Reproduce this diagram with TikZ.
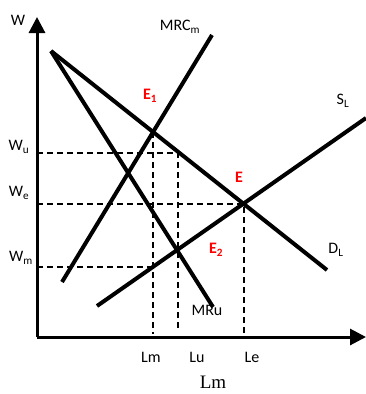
\documentclass[tikz,border=0pt]{standalone}
\usepackage{fontspec}
\setmainfont{Carlito}
\newfontfamily\serifLm{Liberation Serif}
\usetikzlibrary{arrows.meta}
\begin{document}
\begin{tikzpicture}[x=1pt,y=-1pt,
	curve/.style={line width=4pt},
	guide/.style={line width=1.6pt,dash pattern=on 6pt off 4pt},
	axis/.style={line width=3pt,-{Triangle[length=16pt,width=16pt]}},
	lbl/.style={inner sep=0pt,font=\fontsize{16}{16}\selectfont},
	eq/.style={inner sep=0pt,text=red,font=\fontsize{16}{16}\selectfont\bfseries}]

		\useasboundingbox (0,0) rectangle (366,394);

		% define point

		\coordinate (O)  at (37,337);

		\coordinate (Wtop)  at (37,17);

		\coordinate (Lend)  at (366,337);

		\coordinate (Dstart)  at (51,51);

		\coordinate (Dend)  at (327,270);

		\coordinate (MRend)  at (213,307);

		\coordinate (MRCtop)  at (212,35);

		\coordinate (MRCbot)  at (62,282);

		\coordinate (Sbot)  at (97,306);

		\coordinate (Stop)  at (366,118);

		\coordinate (E1)  at (153,132);

		\coordinate (E)  at (244,204);

		\coordinate (E2)  at (178,251);

		\coordinate (U)  at (178,153);

		\coordinate (M)  at (153,267);

		\coordinate (Wu)  at (37,153);

		\coordinate (We)  at (37,204);

		\coordinate (Wm)  at (37,267);

		\coordinate (Lmb)  at (153,334);

		\coordinate (Lub)  at (178,331);

		\coordinate (Leb)  at (244,334);

		% dashed guides

		\draw[guide] (Wu) -- (U) -- (Lub);

		\draw[guide] (We) -- (E) -- (Leb);

		\draw[guide] (Wm) -- (M);

		\draw[guide] (E1) -- (Lmb);

		% curves

		\draw[curve] (Dstart) -- (Dend);

		\draw[curve] (Dstart) -- (MRend);

		\draw[curve] (MRCtop) -- (MRCbot);

		\draw[curve] (Sbot) -- (Stop);

		% axes

		\draw[axis] (O) -- (Wtop);

		\draw[axis] (O) -- (Lend);

		% labels

		\node[lbl] (lW) at (18,20) {W};

		\node[lbl] (lMRC) at (180,27) {MRC\textsubscript{m}};

		\node[lbl] (lS) at (343,101) {S\textsubscript{L}};

		\node[lbl] (lD) at (336,250) {D\textsubscript{L}};

		\node[lbl] (lMRu) at (207,310) {MRu};

		\node[lbl] (lWu) at (19,147) {W\textsubscript{u}};

		\node[lbl] (lWe) at (19,193) {W\textsubscript{e}};

		\node[lbl] (lWm) at (21,258) {W\textsubscript{m}};

		\node[lbl] (lLm) at (151,357) {Lm};

		\node[lbl] (lLu) at (197,357) {Lu};

		\node[lbl] (lLe) at (252,357) {Le};

		\node[inner sep=0pt,font=\serifLm\fontsize{19}{19}\selectfont] (lLmAxis) at (213,382) {Lm};

		\node[eq] (lE1) at (150,96) {E\textsubscript{1}};

		\node[eq] (lE) at (239,177) {E};

		\node[eq] (lE2) at (216,250) {E\textsubscript{2}};

	\end{tikzpicture}
\end{document}
